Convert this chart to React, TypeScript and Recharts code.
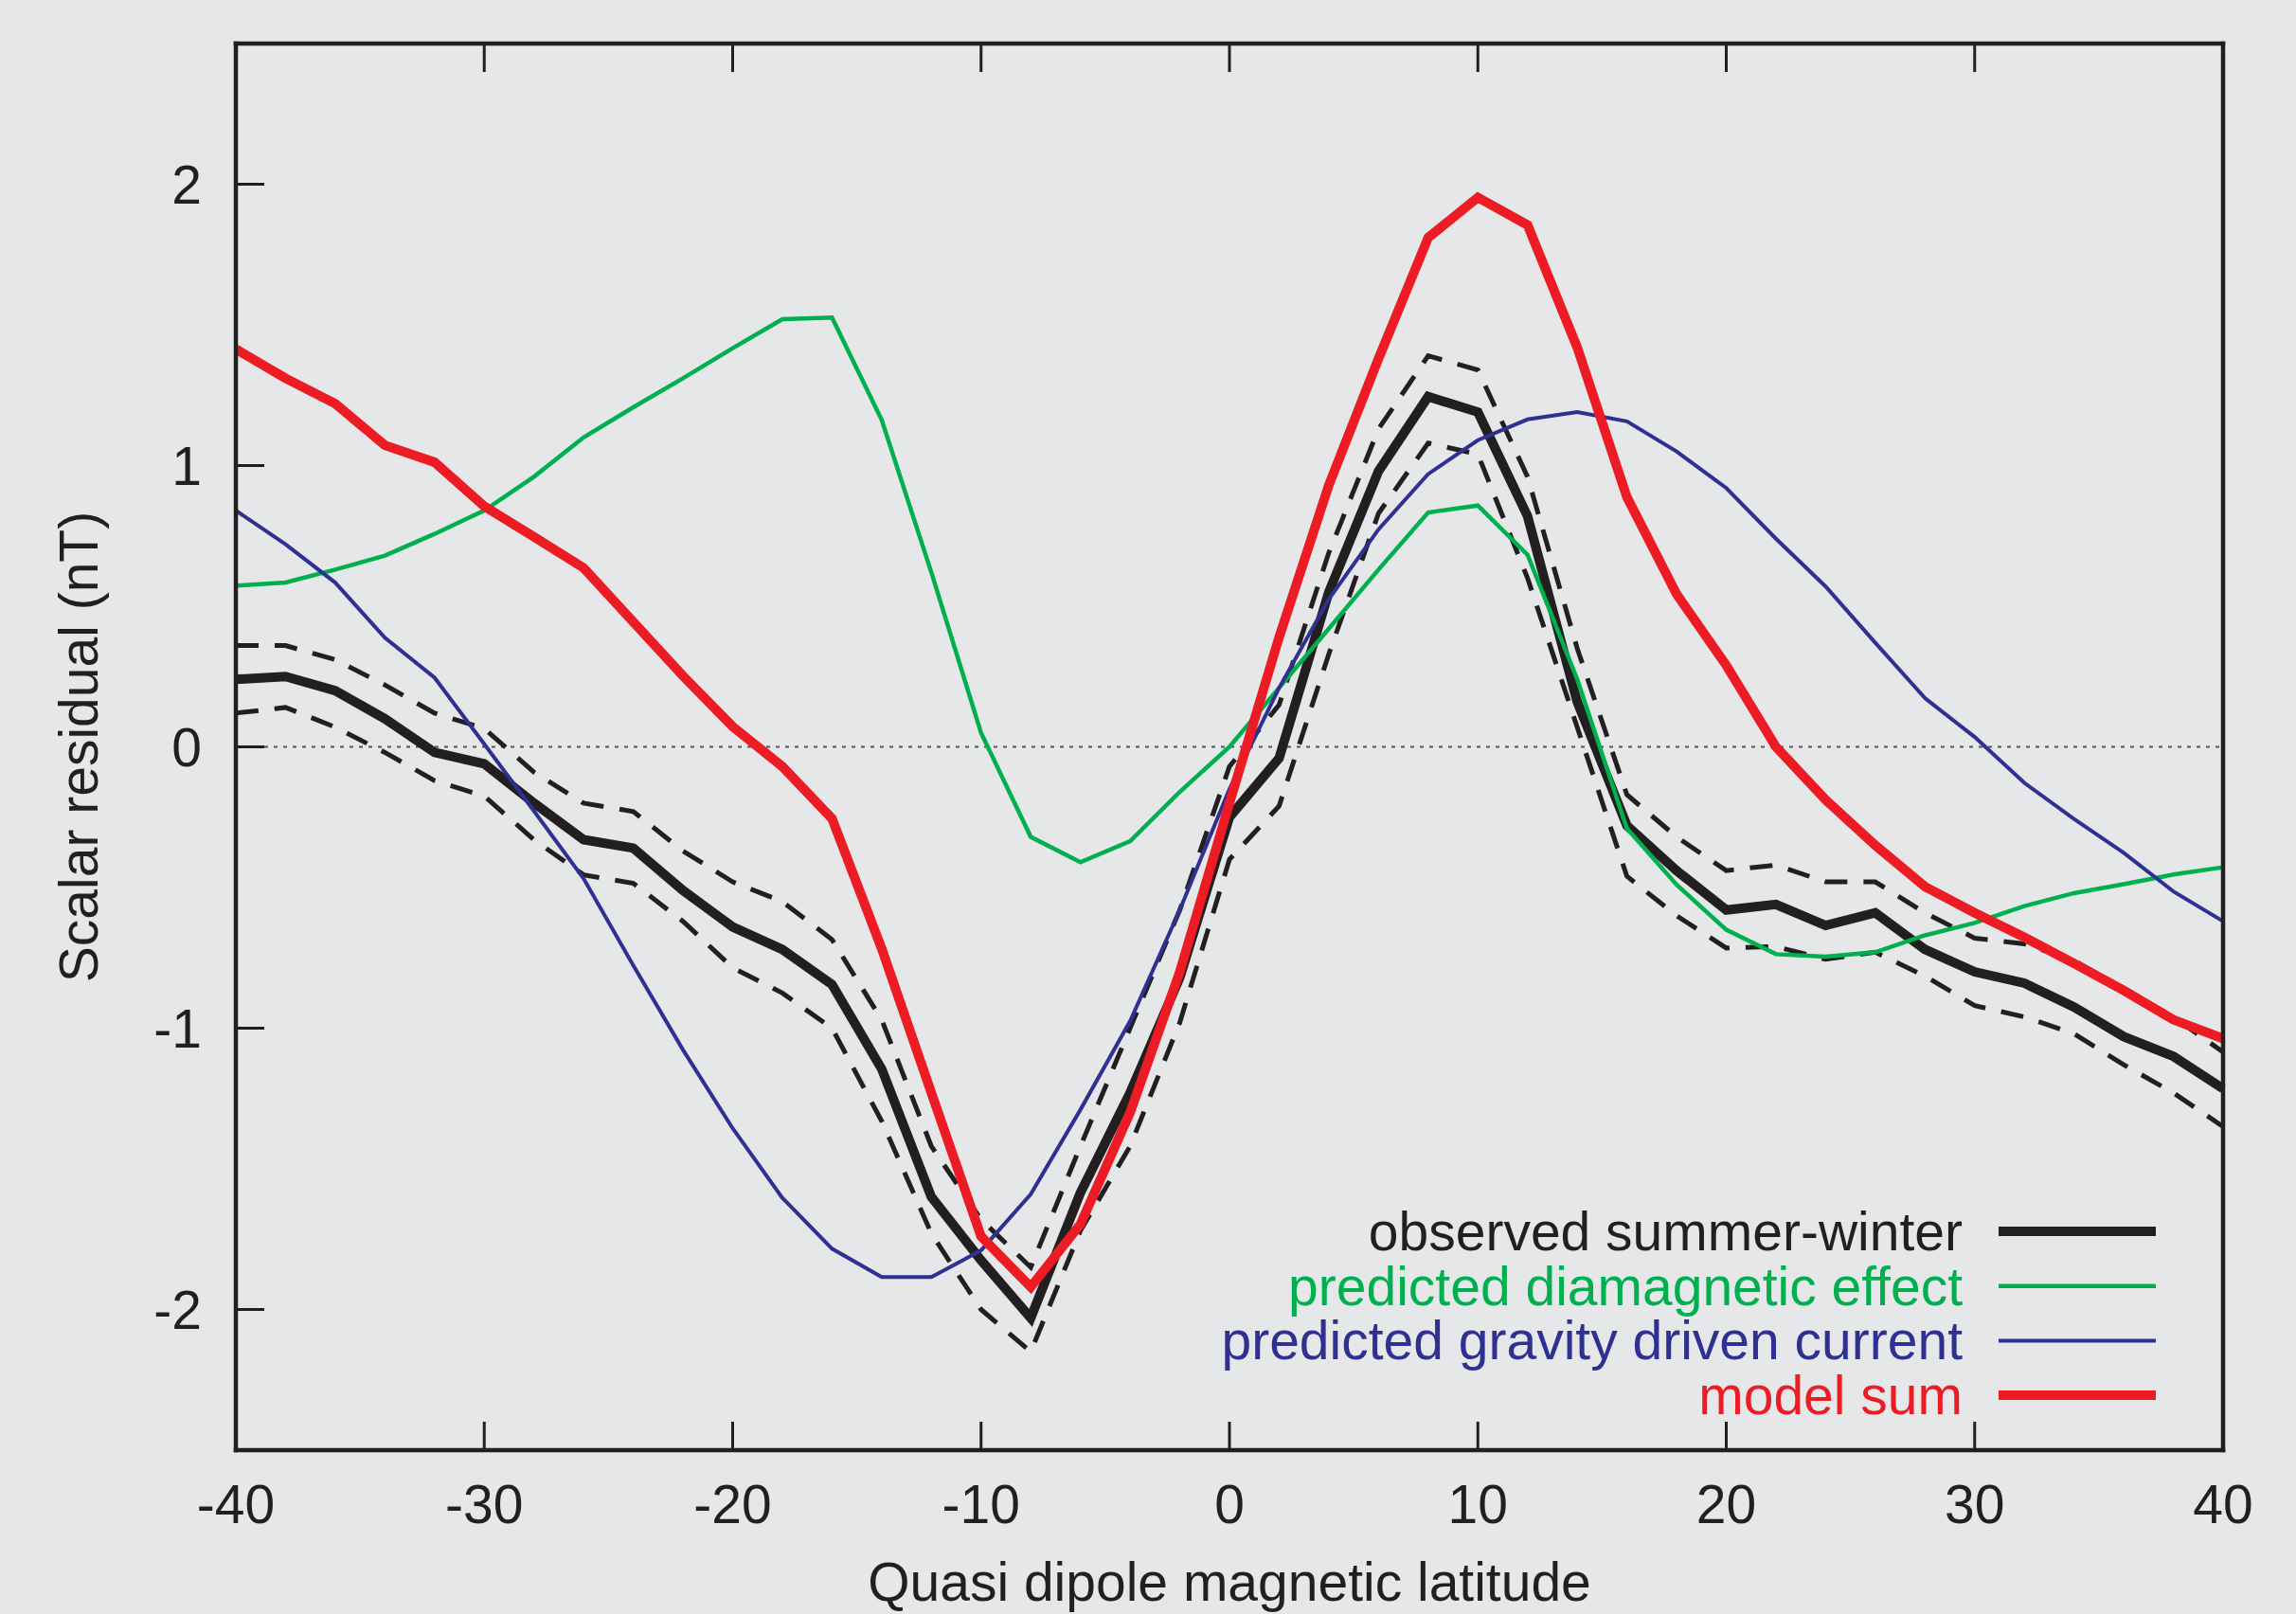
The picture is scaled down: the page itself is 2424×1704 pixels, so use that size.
import React from 'react';
import { LineChart, Line, XAxis, YAxis, ReferenceLine, Legend, Label } from 'recharts';

// quasi dipole latitude, 2 degree bins
const latitude = [-40, -38, -36, -34, -32, -30, -28, -26, -24, -22, -20, -18, -16, -14, -12, -10, -8, -6, -4, -2, 0, 2, 4, 6, 8, 10, 12, 14, 16, 18, 20, 22, 24, 26, 28, 30, 32, 34, 36, 38, 40];

const observed = [0.24, 0.25, 0.2, 0.1, -0.02, -0.06, -0.2, -0.33, -0.36, -0.51, -0.64, -0.72, -0.845, -1.145, -1.6, -1.825, -2.03, -1.585, -1.23, -0.82, -0.25, -0.04, 0.55, 0.98, 1.245, 1.19, 0.82, 0.16, -0.28, -0.44, -0.58, -0.56, -0.635, -0.59, -0.72, -0.8, -0.84, -0.925, -1.03, -1.1, -1.215];
const observedUpper = [0.36, 0.36, 0.31, 0.22, 0.12, 0.065, -0.09, -0.2, -0.23, -0.37, -0.48, -0.55, -0.685, -0.97, -1.42, -1.68, -1.85, -1.42, -1.0, -0.58, -0.07, 0.15, 0.69, 1.13, 1.39, 1.34, 0.96, 0.35, -0.17, -0.32, -0.44, -0.42, -0.48, -0.48, -0.59, -0.68, -0.7, -0.76, -0.86, -0.96, -1.085];
const observedLower = [0.12, 0.14, 0.07, -0.02, -0.12, -0.175, -0.33, -0.455, -0.485, -0.62, -0.785, -0.875, -1.0, -1.33, -1.73, -2.0, -2.15, -1.72, -1.42, -0.98, -0.4, -0.21, 0.33, 0.83, 1.08, 1.04, 0.6, 0.07, -0.46, -0.6, -0.715, -0.71, -0.755, -0.73, -0.815, -0.92, -0.96, -1.02, -1.13, -1.23, -1.35];
const diamagnetic = [0.573, 0.584, 0.63, 0.68, 0.757, 0.84, 0.96, 1.1, 1.207, 1.31, 1.417, 1.52, 1.526, 1.162, 0.62, 0.05, -0.32, -0.41, -0.335, -0.16, 0.0, 0.21, 0.42, 0.63, 0.833, 0.858, 0.683, 0.24, -0.29, -0.49, -0.65, -0.737, -0.746, -0.73, -0.67, -0.626, -0.566, -0.52, -0.488, -0.454, -0.428];
const gravityCurrent = [0.84, 0.72, 0.584, 0.388, 0.246, 0.01, -0.228, -0.468, -0.777, -1.077, -1.356, -1.603, -1.784, -1.885, -1.885, -1.79, -1.59, -1.29, -0.975, -0.58, -0.15, 0.21, 0.525, 0.773, 0.97, 1.09, 1.164, 1.19, 1.157, 1.05, 0.92, 0.74, 0.57, 0.37, 0.173, 0.035, -0.128, -0.256, -0.377, -0.514, -0.62];
const modelSum = [1.414, 1.31, 1.22, 1.072, 1.012, 0.855, 0.747, 0.636, 0.444, 0.252, 0.072, -0.07, -0.255, -0.717, -1.23, -1.74, -1.92, -1.697, -1.3, -0.8, -0.2, 0.39, 0.93, 1.38, 1.81, 1.953, 1.855, 1.42, 0.888, 0.543, 0.29, 0.0, -0.188, -0.35, -0.497, -0.59, -0.677, -0.77, -0.866, -0.97, -1.037];

const xTicks = [-40, -30, -20, -10, 0, 10, 20, 30, 40];
const yTicks = [-2, -1, 0, 1, 2];

const data = latitude.map((lat, i) => ({
  lat,
  observed: observed[i],
  upper: observedUpper[i],
  lower: observedLower[i],
  diamagnetic: diamagnetic[i],
  gravity: gravityCurrent[i],
  sum: modelSum[i],
}));

const FONT = '"Liberation Sans", Arial, Helvetica, sans-serif';
const INK = '#231f20';
const GREEN = '#00b04f';
const BLUE = '#2e3192';
const RED = '#ed1c24';
const BG = '#e6e7e9';

// legend rows, top to bottom, with the sample line width
const legendOrder = [
  'observed summer-winter',
  'predicted diamagnetic effect',
  'predicted gravity driven current',
  'model sum',
];
const legendWidths: Record<string, number> = {
  'observed summer-winter': 10,
  'predicted diamagnetic effect': 4.5,
  'predicted gravity driven current': 4,
  'model sum': 10,
};

const axisLine = { stroke: INK, strokeWidth: 4.5, strokeLinecap: 'square' as const };
const tickLine = { stroke: INK, strokeWidth: 3 };
const tickFont = { fontSize: 57, fontFamily: FONT, fill: INK };

const renderLegend = (props: any) => {
  const items = (props.payload || [])
    .filter((p: any) => p.type !== 'none' && legendOrder.includes(p.value))
    .sort((a: any, b: any) => legendOrder.indexOf(a.value) - legendOrder.indexOf(b.value));
  return (
    <svg width={1150} height={260}>
      {items.map((entry: any, i: number) => {
        const cy = 50 + i * 57.7;
        return (
          <g key={entry.value}>
            <text x={872} y={cy + 20} textAnchor="end" fill={entry.color} fontSize={57} fontFamily={FONT}>
              {entry.value}
            </text>
            <line x1={910} x2={1076} y1={cy} y2={cy} stroke={entry.color} strokeWidth={legendWidths[entry.value] || 4} />
          </g>
        );
      })}
    </svg>
  );
};

export default function App() {
  return (
    <div style={{ position: 'absolute', left: 0, top: 0, width: 2424, height: 1704, background: BG }}>
      <LineChart width={2424} height={1704} data={data} margin={{ top: 16, right: 17, left: 0, bottom: 0 }}>
        <XAxis
          dataKey="lat"
          type="number"
          domain={[-40, 40]}
          ticks={xTicks}
          interval={0}
          height={173}
          axisLine={axisLine}
          tickLine={tickLine}
          tickSize={-30}
          tickMargin={67}
          tick={tickFont}
        >
          <Label
            content={(p: any) => {
              const vb = p.viewBox;
              return (
                <text x={vb.x + vb.width / 2} y={vb.y + 159} textAnchor="middle" fontSize={57} fontFamily={FONT} fill={INK}>
                  Quasi dipole magnetic latitude
                </text>
              );
            }}
          />
        </XAxis>
        <XAxis
          xAxisId="top"
          orientation="top"
          dataKey="lat"
          type="number"
          domain={[-40, 40]}
          ticks={xTicks}
          interval={0}
          height={30}
          axisLine={axisLine}
          tickLine={tickLine}
          tickSize={-30}
          tickFormatter={() => ''}
        />
        <YAxis
          type="number"
          domain={[-2.5, 2.5]}
          ticks={yTicks}
          interval={0}
          width={249}
          axisLine={axisLine}
          tickLine={tickLine}
          tickSize={-30}
          tickMargin={66}
          tick={tickFont}
        >
          <Label
            content={(p: any) => {
              const vb = p.viewBox;
              const cy = vb.y + vb.height / 2;
              return (
                <text x={103} y={cy} transform={`rotate(-90, 103, ${cy})`} textAnchor="middle" fontSize={57} fontFamily={FONT} fill={INK}>
                  Scalar residual (nT)
                </text>
              );
            }}
          />
        </YAxis>
        <YAxis
          yAxisId="right"
          orientation="right"
          type="number"
          domain={[-2.5, 2.5]}
          ticks={yTicks}
          interval={0}
          width={60}
          axisLine={axisLine}
          tickLine={tickLine}
          tickSize={-30}
          tickFormatter={() => ''}
        />
        <ReferenceLine y={0} stroke="#555" strokeWidth={2} strokeDasharray="4 6" />
        <Line dataKey="upper" type="linear" stroke={INK} strokeWidth={5} strokeDasharray="24 17" dot={false} legendType="none" isAnimationActive={false} />
        <Line dataKey="lower" type="linear" stroke={INK} strokeWidth={5} strokeDasharray="24 17" dot={false} legendType="none" isAnimationActive={false} />
        <Line dataKey="observed" name="observed summer-winter" type="linear" stroke={INK} strokeWidth={10} dot={false} isAnimationActive={false} />
        <Line dataKey="diamagnetic" name="predicted diamagnetic effect" type="linear" stroke={GREEN} strokeWidth={4.5} dot={false} isAnimationActive={false} />
        <Line dataKey="gravity" name="predicted gravity driven current" type="linear" stroke={BLUE} strokeWidth={4} dot={false} isAnimationActive={false} />
        <Line dataKey="sum" name="model sum" type="linear" stroke={RED} strokeWidth={10} dot={false} isAnimationActive={false} />
        <Legend
          layout="vertical"
          align="center"
          verticalAlign="middle"
          content={renderLegend}
          wrapperStyle={{ left: 1200, top: 1250, width: 1150, height: 260 }}
        />
      </LineChart>
    </div>
  );
}
